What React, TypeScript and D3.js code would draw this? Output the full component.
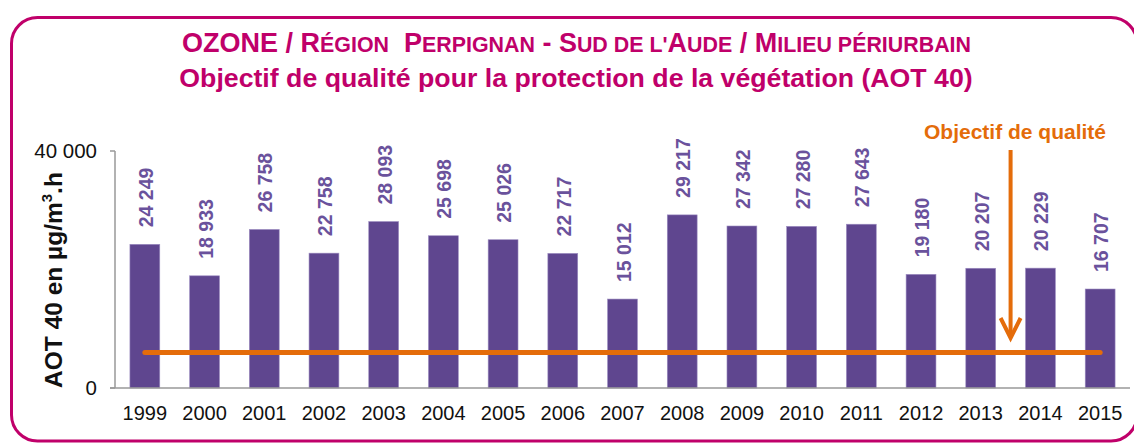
import React from "react";
import * as d3 from "d3";

const years = ["1999","2000","2001","2002","2003","2004","2005","2006","2007","2008","2009","2010","2011","2012","2013","2014","2015"];
const values = [24249,18933,26758,22758,28093,25698,25026,22717,15012,29217,27342,27280,27643,19180,20207,20229,16707];
const objective = 6000;
const yTicks = [0, 40000];
const titleLine1: [string, boolean][] = [
  ["OZONE / R", true], ["ÉGION", false], ["\u00A0 P", true], ["ERPIGNAN", false],
  [" - S", true], ["UD DE L'", false], ["A", true], ["UDE", false], [" / M", true], ["ILIEU PÉRIURBAIN", false],
];
const titleLine2 = "Objectif de qualité pour la protection de la végétation (AOT 40)";
const yAxisTitle = "AOT 40 en µg/m";
const objectiveLabel = "Objectif de qualité";

const W = 1134, H = 444;
const PURPLE = "#5F468F";
const ORANGE = "#E46C0A";
const MAGENTA = "#C0006A";
const FONT = "Arial, 'Liberation Sans', Helvetica, sans-serif";

const locale = d3.formatLocale({ decimal: ",", thousands: " ", grouping: [3], currency: ["", ""] });
const fmt = locale.format(",d");

export default function App() {
  const x = d3.scaleBand<string>().domain(years).range([115, 1130]).paddingInner(0.5).paddingOuter(0.25);
  const y = d3.scaleLinear().domain([0, 40000]).range([388, 151]);
  const bw = x.bandwidth();
  const cx = (yr: string) => (x(yr) as number) + bw / 2;
  const arrowX = (cx("2013") + cx("2014")) / 2;
  const arrowTop = 150, arrowTip = 338;

  return (
    <svg width={W} height={H} style={{ position: "absolute", left: 0, top: 0, fontFamily: FONT }}>
      <rect x={11.5} y={17.5} width={1125.5} height={423.5} rx={26} ry={26} fill="white" stroke={MAGENTA} strokeWidth={3} />
      <text x={576.5} y={52} textAnchor="middle" fill={MAGENTA} fontWeight="bold" fontSize={27}>
        {titleLine1.map(([t, big], i) => (
          <tspan key={i} fontSize={big ? 27 : 21.4}>{t}</tspan>
        ))}
      </text>
      <text x={576} y={87} textAnchor="middle" fill={MAGENTA} fontWeight="bold" fontSize={26.7}>{titleLine2}</text>

      {/* axes */}
      <line x1={115} x2={115} y1={y(40000)} y2={y(0)} stroke="#999" strokeWidth={1.5} />
      {yTicks.map((t) => (
        <g key={t}>
          <line x1={110} x2={115} y1={y(t)} y2={y(t)} stroke="#999" strokeWidth={1.5} />
          <text x={97} y={y(t)} dy="0.36em" textAnchor="end" fontSize={20.5} fill="#111">{fmt(t)}</text>
        </g>
      ))}

      {values.map((v, i) => (
        <rect key={years[i]} x={x(years[i])} y={y(v)} width={bw} height={y(0) - y(v)} fill={PURPLE} stroke="#9C8CC0" strokeWidth={0.6} />
      ))}
      <line x1={110} x2={1130} y1={y(0)} y2={y(0)} stroke="#999" strokeWidth={1.5} />

      {values.map((v, i) => (
        <text key={"l" + years[i]} transform={`translate(${cx(years[i]) + 1},${y(v) - 17}) rotate(-90)`} dy="0.36em"
          textAnchor="start" fontWeight="bold" fontSize={19.5} fill="#6A529C">{fmt(v)}</text>
      ))}

      {years.map((yr) => (
        <text key={"x" + yr} x={cx(yr)} y={420} textAnchor="middle" fontSize={20} fill="#111">{yr}</text>
      ))}

      <text transform={`translate(62,280) rotate(-90)`} textAnchor="middle" fontWeight="bold" fontSize={24.5} fill="#111">
        {yAxisTitle}<tspan fontSize={15} dy={-10}>3</tspan><tspan dy={10}>.h</tspan>
      </text>

      <line x1={cx(years[0])} x2={cx(years[years.length - 1])} y1={y(objective)} y2={y(objective)} stroke={ORANGE} strokeWidth={5} strokeLinecap="round" />

      <line x1={arrowX} x2={arrowX} y1={arrowTop} y2={arrowTip - 2} stroke={ORANGE} strokeWidth={4} />
      <polyline points={`${arrowX - 10},${arrowTip - 20} ${arrowX},${arrowTip} ${arrowX + 10},${arrowTip - 20}`} fill="none" stroke={ORANGE} strokeWidth={4} />
      <text x={1015} y={139} textAnchor="middle" fontWeight="bold" fontSize={21} fill={ORANGE}>{objectiveLabel}</text>
    </svg>
  );
}
